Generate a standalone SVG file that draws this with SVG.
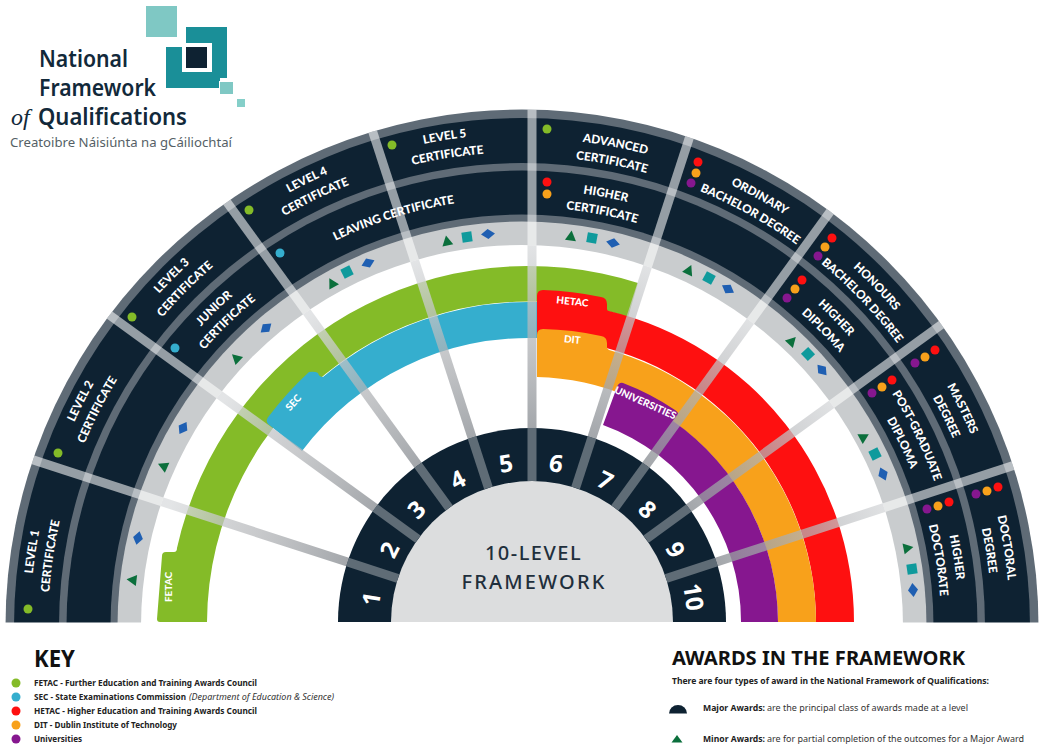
<svg xmlns="http://www.w3.org/2000/svg" xmlns:xlink="http://www.w3.org/1999/xlink" width="1044" height="747" viewBox="0 0 1044 747">
<style>
.dk{fill:#0e2232}.gy{fill:#5f6b76}.lg{fill:#c9ccce}
.lb{font-family:"Lato","Noto Sans",sans-serif;font-weight:900;font-size:11.8px;fill:#fff;text-anchor:middle}
.tab{font-family:"Lato","Noto Sans",sans-serif;font-weight:900;font-size:10px;fill:#fff;text-anchor:middle}
.num{font-family:"Noto Sans",sans-serif;font-weight:700;font-size:24px;fill:#fff;text-anchor:middle}
.hub{font-family:"Noto Sans",sans-serif;font-weight:500;font-size:20px;fill:#1f2f3c;text-anchor:middle}
.lo{font-family:"Noto Sans",sans-serif;font-weight:600;font-size:23px;fill:#12293a}
.key{font-family:"Noto Sans",sans-serif;font-weight:700;font-size:8.4px;fill:#222}
.kn{font-family:"Noto Sans",sans-serif;font-size:8.4px;fill:#333}
.h{font-family:"Noto Sans",sans-serif;font-weight:700;fill:#111}
.gr{fill:#84bb28}.bl{fill:#35aece}.re{fill:#fe1010}.or{fill:#f8a11b}.pu{fill:#86178f}
.hs{stroke:#5f6c76;stroke-width:9}.ms{stroke:url(#sg);stroke-width:9}.os{stroke:#fff;stroke-opacity:.56;stroke-width:9}
</style>
<defs>
<radialGradient id="sg" gradientUnits="userSpaceOnUse" cx="532" cy="622" r="400">
<stop offset=".48" stop-color="#8f9398" stop-opacity=".82"/>
<stop offset=".72" stop-color="#b3b5b8" stop-opacity=".72"/>
<stop offset=".95" stop-color="#dcdee0" stop-opacity=".8"/>
</radialGradient>
<clipPath id="disk"><circle cx="522" cy="626" r="381"/></clipPath>
<clipPath id="ann"><path clip-rule="evenodd" d="M5.500,626a516.500,516.500 0 1 1 1033,0a516.500,516.500 0 1 1 -1033,0ZM141,626a381,381 0 1 0 762,0a381,381 0 1 0 -762,0Z"/></clipPath>
<path id="a1" d="M34,626A488,488 0 0 1 1010,626"/>
<path id="a2" d="M52,626A470,470 0 0 1 992,626"/>
<path id="a1L" d="M30,626A492,492 0 0 1 1014,626"/>
<path id="a2L" d="M48,626A474,474 0 0 1 996,626"/>
<path id="b1" d="M85,626A437,437 0 0 1 959,626"/>
<path id="b2" d="M103,626A419,419 0 0 1 941,626"/>
<path id="b1L" d="M83,626A439,439 0 0 1 961,626"/>
<path id="b2L" d="M101,626A421,421 0 0 1 943,626"/>
<path id="b0" d="M94,626A428,428 0 0 1 950,626"/>
<path id="tr" d="M0,-5.500L5.500,4.500L-5.500,4.500Z" fill="#0b6f3c"/>
<rect id="sq" x="-5" y="-5" width="10" height="10" fill="#0f9a9c"/>
<path id="di" d="M0,-5L7,0L0,5L-7,0Z" fill="#1f5fb2"/>
</defs>
<rect width="1044" height="747" fill="#fff"/>

<g id="logo">
<rect x="146" y="6" width="31" height="31" fill="#7fc8c4"/>
<path d="M186,27H227V78H220V88H166V47H186Z" fill="#1a8f98"/>
<rect x="182" y="43" width="30" height="29" fill="#fff"/>
<rect x="186" y="47" width="21" height="21" fill="#0e2232"/>
<rect x="219" y="81" width="15" height="14" fill="#fff"/>
<rect x="220" y="82" width="13" height="12" fill="#7fc8c4"/>
<rect x="237" y="99" width="8" height="8" fill="#85cfc9"/>
<text class="lo" x="39" y="67" textLength="89" lengthAdjust="spacingAndGlyphs">National</text>
<text class="lo" x="39" y="96" textLength="117" lengthAdjust="spacingAndGlyphs">Framework</text>
<text x="11" y="125" font-family="Liberation Serif,serif" font-style="italic" font-size="24" fill="#12293a">of</text>
<text class="lo" x="38" y="125" textLength="149" lengthAdjust="spacingAndGlyphs">Qualifications</text>
<text x="10" y="147" font-family="Noto Sans,sans-serif" font-size="13" fill="#555f66" textLength="222" lengthAdjust="spacingAndGlyphs">Creatoibre Náisiúnta na gCáiliochtaí</text>
</g>

<g id="award-rings">
<circle class="gy" cx="522" cy="626" r="516.500"/>
<circle class="dk" cx="522" cy="626" r="508"/>
<circle class="gy" cx="522" cy="626" r="463"/>
<circle class="dk" cx="522" cy="626" r="455.500"/>
<circle class="gy" cx="522" cy="626" r="411.500"/>
<circle class="lg" cx="522" cy="626" r="404.500"/>
<circle cx="522" cy="626" r="381" fill="#fff"/>
</g>

<g id="awarding-bands">
<path id="fetac" class="gr" d="M157,619L162,556Q162,552 166,552L174,552Q177,552 177,548A360,360 0 0 1 638,283L628,317A322,322 0 0 0 207,622L160,622Q157,622 157,619Z"/>
<path id="sec" class="bl" d="M302,451L268,424Q265,420 269,416A333,333 0 0 1 309,372Q315,371 318,373Q319,377 323,377A321,321 0 0 1 537,302L537,338A284,284 0 0 0 302,451Z"/>
<path id="hetac" class="re" d="M537,296Q537,290 543,290A332,332 0 0 1 601,297Q607,298 607,304L607,309Q607,311 609,311A320,320 0 0 1 854,622L816,622A284,284 0 0 0 537,338Z"/>
<path id="dit" class="or" d="M537,335Q537,329 543,329A294,294 0 0 1 601,336Q607,337 607,343L607,347Q607,349 609,350A283,283 0 0 1 816,622L778,622A246,246 0 0 0 537,377Z"/>
<path id="universities" class="pu" d="M603,425L617,387Q619,382 623,383A255,255 0 0 1 675,410Q680,413 677,416L673,421A246,246 0 0 1 778,622L741,622A209,209 0 0 0 603,425Z"/>
<text class="tab" transform="translate(172,587) rotate(-90)">FETAC</text>
<text class="tab" transform="translate(296,405) rotate(-48)">SEC</text>
<text class="tab" transform="translate(572,305) rotate(6)">HETAC</text>
<text class="tab" transform="translate(572,343) rotate(6)">DIT</text>
<text class="tab" transform="translate(644,406) rotate(24)">UNIVERSITIES</text>
</g>

<g id="connectors">
<g clip-path="url(#disk)">
<line class="ms" x1="532" y1="428" x2="532" y2="222" transform="rotate(-72 532 622)"/>
<line class="ms" x1="532" y1="428" x2="532" y2="222" transform="rotate(-54 532 622)"/>
<line class="ms" x1="532" y1="428" x2="532" y2="222" transform="rotate(-36 532 622)"/>
<line class="ms" x1="532" y1="428" x2="532" y2="222" transform="rotate(-18 532 622)"/>
<line class="ms" x1="532" y1="428" x2="532" y2="222"/>
<line class="ms" x1="532" y1="428" x2="532" y2="222" transform="rotate(18 532 622)"/>
<line class="ms" x1="532" y1="428" x2="532" y2="222" transform="rotate(36 532 622)"/>
<line class="ms" x1="532" y1="428" x2="532" y2="222" transform="rotate(54 532 622)"/>
<line class="ms" x1="532" y1="428" x2="532" y2="222" transform="rotate(72 532 622)"/>
</g>
<g clip-path="url(#ann)">
<line class="os" x1="532" y1="262" x2="532" y2="82" transform="rotate(-72 532 622)"/>
<line class="os" x1="532" y1="262" x2="532" y2="82" transform="rotate(-54 532 622)"/>
<line class="os" x1="532" y1="262" x2="532" y2="82" transform="rotate(-36 532 622)"/>
<line class="os" x1="532" y1="262" x2="532" y2="82" transform="rotate(-18 532 622)"/>
<line class="os" x1="532" y1="262" x2="532" y2="82"/>
<line class="os" x1="532" y1="262" x2="532" y2="82" transform="rotate(18 532 622)"/>
<line class="os" x1="532" y1="262" x2="532" y2="82" transform="rotate(36 532 622)"/>
<line class="os" x1="532" y1="262" x2="532" y2="82" transform="rotate(54 532 622)"/>
<line class="os" x1="532" y1="262" x2="532" y2="82" transform="rotate(72 532 622)"/>
</g>
</g>

<g id="hub">
<path class="dk" d="M338,622A194,194 0 0 1 726,622Z"/>
<path fill="#dcddde" d="M391,622A141,141 0 0 1 673,622Z"/>
<line class="hs" x1="532" y1="481" x2="532" y2="428" transform="rotate(-72 532 622)"/>
<line class="hs" x1="532" y1="481" x2="532" y2="428" transform="rotate(-54 532 622)"/>
<line class="hs" x1="532" y1="481" x2="532" y2="428" transform="rotate(-36 532 622)"/>
<line class="hs" x1="532" y1="481" x2="532" y2="428" transform="rotate(-18 532 622)"/>
<line class="hs" x1="532" y1="481" x2="532" y2="428"/>
<line class="hs" x1="532" y1="481" x2="532" y2="428" transform="rotate(18 532 622)"/>
<line class="hs" x1="532" y1="481" x2="532" y2="428" transform="rotate(36 532 622)"/>
<line class="hs" x1="532" y1="481" x2="532" y2="428" transform="rotate(54 532 622)"/>
<line class="hs" x1="532" y1="481" x2="532" y2="428" transform="rotate(72 532 622)"/>
<text class="hub" x="533.500" y="560" letter-spacing="1.5">10-LEVEL</text>
<text class="hub" x="534" y="589" letter-spacing="2.2">FRAMEWORK</text>
<text class="num" transform="translate(372,599) rotate(-81)" y="8">1</text>
<text class="num" transform="translate(390,550) rotate(-63)" y="8">2</text>
<text class="num" transform="translate(417,510) rotate(-45)" y="8">3</text>
<text class="num" transform="translate(458,480) rotate(-27)" y="8">4</text>
<text class="num" transform="translate(506,464) rotate(-9)" y="8">5</text>
<text class="num" transform="translate(556,464) rotate(9)" y="8">6</text>
<text class="num" transform="translate(605,481) rotate(27)" y="8">7</text>
<text class="num" transform="translate(647,510) rotate(45)" y="8">8</text>
<text class="num" transform="translate(675,550) rotate(63)" y="8">9</text>
<text class="num" transform="translate(693,597) rotate(81)" y="8" font-size="22">10</text>
</g>

<rect id="base-mask" x="0" y="622.500" width="1044" height="125" fill="#fff"/>

<g id="level-1"><circle class="gr" cx="28" cy="609" r="4.500"/><use href="#tr" transform="translate(132,580) rotate(-83.300)"/><use href="#di" transform="translate(138,538) rotate(-77)"/>
<text class="lb"><textPath href="#a1L" startOffset="4.800%">LEVEL 1</textPath></text><text class="lb"><textPath href="#a2L" startOffset="4.700%">CERTIFICATE</textPath></text></g>
<g id="level-2"><circle class="gr" cx="58" cy="453" r="4.500"/><use href="#tr" transform="translate(163,466) rotate(-66)"/><use href="#di" transform="translate(183,428) rotate(-59.700)"/>
<text class="lb"><textPath href="#a1L" startOffset="15%">LEVEL 2</textPath></text><text class="lb"><textPath href="#a2L" startOffset="15%">CERTIFICATE</textPath></text></g>
<g id="level-3"><circle class="gr" cx="132" cy="317" r="4.500"/><use href="#tr" transform="translate(236,358) rotate(-46.900)"/><use href="#di" transform="translate(266,328) rotate(-40.700)"/>
<text class="lb"><textPath href="#a1L" startOffset="25%">LEVEL 3</textPath></text><text class="lb"><textPath href="#a2L" startOffset="25%">CERTIFICATE</textPath></text>
<circle class="bl" cx="175" cy="348" r="4.500"/>
<text class="lb"><textPath href="#b1L" startOffset="25.500%">JUNIOR</textPath></text><text class="lb"><textPath href="#b2L" startOffset="25.500%">CERTIFICATE</textPath></text></g>
<g id="level-4"><circle class="gr" cx="249" cy="210" r="4.500"/><use href="#tr" transform="translate(332,283) rotate(-29)"/><use href="#sq" transform="translate(347,272) rotate(-26.300)"/><use href="#di" transform="translate(368,263) rotate(-23)"/>
<text class="lb"><textPath href="#a1L" startOffset="35.700%">LEVEL 4</textPath></text><text class="lb"><textPath href="#a2L" startOffset="35.700%">CERTIFICATE</textPath></text>
<circle class="bl" cx="280" cy="253" r="4.500"/>
<text class="lb"><textPath href="#b0" startOffset="40.300%">LEAVING CERTIFICATE</textPath></text></g>
<g id="level-5"><circle class="gr" cx="392" cy="145" r="4.500"/><use href="#tr" transform="translate(447,241) rotate(-11)"/><use href="#sq" transform="translate(467,237) rotate(-8)"/><use href="#di" transform="translate(488,234) rotate(-5)"/>
<text class="lb"><textPath href="#a1L" startOffset="45%">LEVEL 5</textPath></text><text class="lb"><textPath href="#a2L" startOffset="45%">CERTIFICATE</textPath></text></g>
<g id="level-6"><circle class="gr" cx="547" cy="129" r="4.500"/><use href="#tr" transform="translate(571,236) rotate(7)"/><use href="#sq" transform="translate(592,238) rotate(10.200)"/><use href="#di" transform="translate(613,243) rotate(13.400)"/>
<text class="lb"><textPath href="#a1" startOffset="56.100%">ADVANCED</textPath></text><text class="lb"><textPath href="#a2" startOffset="56.100%">CERTIFICATE</textPath></text>
<circle class="re" cx="547" cy="182" r="4.500"/><circle class="or" cx="547" cy="194" r="4.500"/>
<text class="lb"><textPath href="#b1" startOffset="56.100%">HIGHER</textPath></text><text class="lb"><textPath href="#b2" startOffset="56.100%">CERTIFICATE</textPath></text></g>
<g id="level-7"><circle class="re" cx="698" cy="162" r="4.500"/><circle class="or" cx="696" cy="173" r="4.500"/><circle class="pu" cx="691" cy="183" r="4.500"/><use href="#tr" transform="translate(689,270) rotate(25)"/><use href="#sq" transform="translate(709,278) rotate(28.300)"/><use href="#di" transform="translate(728,289) rotate(31.400)"/>
<text class="lb"><textPath href="#a1" startOffset="66.100%">ORDINARY</textPath></text><text class="lb"><textPath href="#a2" startOffset="66.100%">BACHELOR DEGREE</textPath></text></g>
<g id="level-8"><circle class="re" cx="832" cy="238" r="4.500"/><circle class="or" cx="825" cy="247" r="4.500"/><circle class="pu" cx="818" cy="256" r="4.500"/><circle class="re" cx="802" cy="280" r="4.500"/><circle class="or" cx="795" cy="289" r="4.500"/><circle class="pu" cx="787" cy="298" r="4.500"/><use href="#tr" transform="translate(792,341) rotate(43.500)"/><use href="#sq" transform="translate(808,354) rotate(46.400)"/><use href="#di" transform="translate(822,370) rotate(49.500)"/>
<text class="lb"><textPath href="#a1" startOffset="75.700%">HONOURS</textPath></text><text class="lb"><textPath href="#a2" startOffset="75.700%">BACHELOR DEGREE</textPath></text>
<text class="lb"><textPath href="#b1" startOffset="75.300%">HIGHER</textPath></text><text class="lb"><textPath href="#b2" startOffset="75.300%">DIPLOMA</textPath></text></g>
<g id="level-9"><circle class="re" cx="935" cy="350" r="4.500"/><circle class="or" cx="925" cy="357" r="4.500"/><circle class="pu" cx="915" cy="363" r="4.500"/><circle class="re" cx="892" cy="380" r="4.500"/><circle class="or" cx="882" cy="387" r="4.500"/><circle class="pu" cx="872" cy="393" r="4.500"/><use href="#tr" transform="translate(864,437) rotate(61)"/><use href="#sq" transform="translate(875,454) rotate(64)"/><use href="#di" transform="translate(883,474) rotate(67.200)"/>
<text class="lb"><textPath href="#a1" startOffset="85.400%">MASTERS</textPath></text><text class="lb"><textPath href="#a2" startOffset="85.400%">DEGREE</textPath></text>
<text class="lb"><textPath href="#b1" startOffset="85.700%">POST-GRADUATE</textPath></text><text class="lb"><textPath href="#b2" startOffset="85.700%">DIPLOMA</textPath></text></g>
<g id="level-10"><circle class="re" cx="998" cy="487" r="4.500"/><circle class="or" cx="987" cy="491" r="4.500"/><circle class="pu" cx="976" cy="494" r="4.500"/><circle class="re" cx="949" cy="502" r="4.500"/><circle class="or" cx="938" cy="506" r="4.500"/><circle class="pu" cx="927" cy="509" r="4.500"/><use href="#tr" transform="translate(908,548) rotate(78.600)"/><use href="#sq" transform="translate(912,569) rotate(81.700)"/><use href="#di" transform="translate(913,590) rotate(84.700)"/>
<text class="lb"><textPath href="#a1" startOffset="94.900%">DOCTORAL</textPath></text><text class="lb"><textPath href="#a2" startOffset="94.900%">DEGREE</textPath></text>
<text class="lb"><textPath href="#b1" startOffset="95%">HIGHER</textPath></text><text class="lb"><textPath href="#b2" startOffset="95%">DOCTORATE</textPath></text></g>

<g id="key">
<text class="h" x="34" y="667" font-size="23" textLength="41" lengthAdjust="spacingAndGlyphs">KEY</text>
<circle class="gr" cx="16" cy="683" r="4.500"/><circle class="bl" cx="16" cy="697" r="4.500"/><circle class="re" cx="16" cy="711" r="4.500"/><circle class="or" cx="16" cy="725" r="4.500"/><circle class="pu" cx="16" cy="739" r="4.500"/>
<text class="key" x="34" y="686" textLength="223" lengthAdjust="spacingAndGlyphs">FETAC - Further Education and Training Awards Council</text>
<text class="key" x="34" y="700" textLength="152" lengthAdjust="spacingAndGlyphs">SEC - State Examinations Commission</text>
<text class="kn" x="189" y="700" font-style="italic" textLength="145" lengthAdjust="spacingAndGlyphs">(Department of Education &amp; Science)</text>
<text class="key" x="34" y="714" textLength="223" lengthAdjust="spacingAndGlyphs">HETAC - Higher Education and Training Awards Council</text>
<text class="key" x="34" y="728" textLength="143" lengthAdjust="spacingAndGlyphs">DIT - Dublin Institute of Technology</text>
<text class="key" x="34" y="742" textLength="48" lengthAdjust="spacingAndGlyphs">Universities</text>
</g>

<g id="awards-legend">
<text class="h" x="672" y="665" font-size="20" textLength="293" lengthAdjust="spacingAndGlyphs">AWARDS IN THE FRAMEWORK</text>
<text class="key" x="672" y="684" textLength="317" lengthAdjust="spacingAndGlyphs">There are four types of award in the National Framework of Qualifications:</text>
<path class="dk" d="M669,713.500A9,8.500 0 0 1 687,713.500Z"/>
<text class="key" x="703" y="711" textLength="62" lengthAdjust="spacingAndGlyphs">Major Awards:</text>
<text class="kn" x="767" y="711" textLength="201" lengthAdjust="spacingAndGlyphs">are the principal class of awards made at a level</text>
<path d="M677,735L682.500,742.500L671.500,742.500Z" fill="#0b6f3c"/>
<text class="key" x="703" y="742" textLength="62" lengthAdjust="spacingAndGlyphs">Minor Awards:</text>
<text class="kn" x="767" y="742" textLength="257" lengthAdjust="spacingAndGlyphs">are for partial completion of the outcomes for a Major Award</text>
</g>
</svg>
